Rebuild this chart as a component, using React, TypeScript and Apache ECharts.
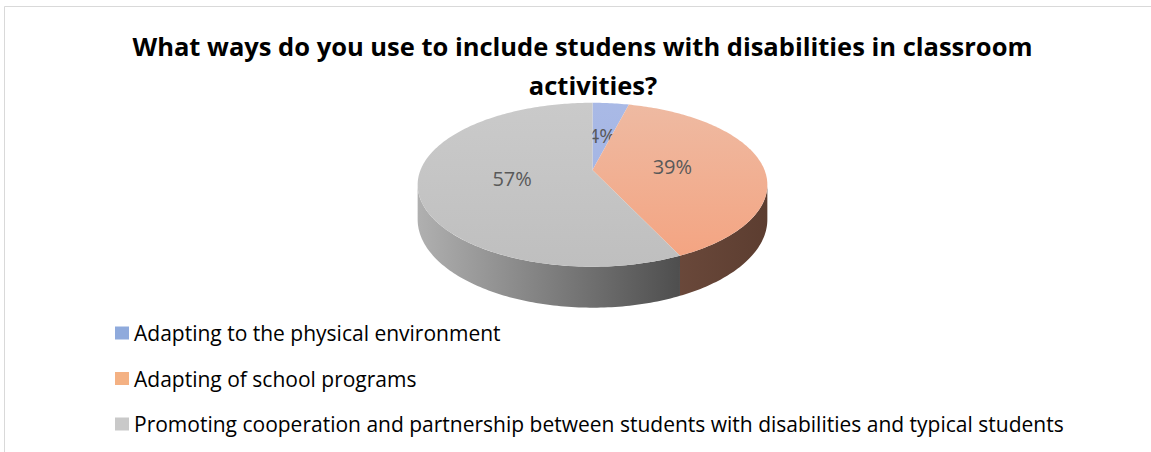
import React, { useEffect, useRef } from "react";
import * as echarts from "echarts";

// ---- data ----
const categories = [
  "Adapting to the physical environment",
  "Adapting of school programs",
  "Promoting cooperation and partnership between students with disabilities and typical students",
];
const values = [4, 39, 57];
const titleLines = [
  "What ways do you use to include studens with disabilities in classroom",
  "activities?",
];

// ---- styles ----
const legendColors = ["#8faadc", "#f4b183", "#c9c9c9"];
const topColors = [
  ["#aabae6", "#9fb1e2"],
  ["#eebca5", "#f4a380"],
  ["#cbcbcb", "#bfbfbf"],
];
const sideStops = [
  [["#5a6a96", 0], ["#4f5e88", 1]],
  [["#6c4a3c", 0.7], ["#5c3d30", 1]],
  [["#b0b0b0", 0], ["#4e4e4e", 0.75], ["#3a3a3a", 1]],
];
const titleCenters = [582.5, 593];
const titleTops = [31, 70];
const FONT = "'Open Sans', 'DejaVu Sans', sans-serif";

// ---- geometry of the tilted pie ----
const CX = 592.5;
const CY = 170;
const RX = 172;
const RZ = 79.3;
const P = 0.18;
const DEPTH = 33.6;
const LABEL_R = 0.47;

function proj(X: number, Z: number, h: number): number[] {
  const w = 1 / (1 - P * Z);
  return [CX + RX * X * w, CY + RZ * Z * w + h * DEPTH * w];
}

function arc(a0: number, a1: number, h: number, r = 1): number[][] {
  const n = Math.max(2, Math.ceil(((a1 - a0) * 180) / Math.PI));
  const pts: number[][] = [];
  for (let k = 0; k <= n; k++) {
    const t = a0 + ((a1 - a0) * k) / n;
    pts.push(proj(r * Math.sin(t), -r * Math.cos(t), h));
  }
  return pts;
}

export default function App() {
  const ref = useRef<HTMLDivElement>(null);

  useEffect(() => {
    if (!ref.current) return;
    const chart = echarts.init(ref.current, undefined, { renderer: "svg" });
    const total = values.reduce((a, b) => a + b, 0);
    const thetaR = Math.acos(-P);
    const thetaL = 2 * Math.PI - thetaR;
    const left = CX - RX * 1.02;
    const right = CX + RX * 1.02;

    const renderItem = (params: any, api: any) => {
      const i = params.dataIndex;
      const v = api.value(0);
      let before = 0;
      for (let k = 0; k < i; k++) before += values[k];
      const a0 = (before / total) * 2 * Math.PI;
      const a1 = a0 + (v / total) * 2 * Math.PI;
      const children: any[] = [];

      const s = Math.max(a0, thetaR);
      const e = Math.min(a1, thetaL);
      if (e > s) {
        const topArc = arc(s, e, 0);
        const botArc = arc(s, e, 1).reverse();
        children.push({
          type: "polygon",
          shape: { points: topArc.concat(botArc) },
          style: {
            fill: {
              type: "linear",
              x: left,
              y: 0,
              x2: right,
              y2: 0,
              global: true,
              colorStops: sideStops[i].map((st: any) => ({ offset: st[1], color: st[0] })),
            },
            stroke: null,
          },
        });
      }

      const topPts = [proj(0, 0, 0)].concat(arc(a0, a1, 0));
      children.push({
        type: "polygon",
        shape: { points: topPts },
        style: {
          fill: {
            type: "linear",
            x: 0,
            y: CY - RZ,
            x2: 0,
            y2: CY + RZ * 1.2,
            global: true,
            colorStops: [
              { offset: 0, color: topColors[i][0] },
              { offset: 1, color: topColors[i][1] },
            ],
          },
          stroke: null,
        },
      });

      const mid = (a0 + a1) / 2;
      const lp = proj(LABEL_R * Math.sin(mid), -LABEL_R * Math.cos(mid), 0);
      children.push({
        type: "text",
        x: lp[0],
        y: lp[1],
        style: {
          text: Math.round((v / total) * 100) + "%",
          fill: "#595959",
          fontSize: 20,
          fontFamily: FONT,
          align: "center",
          verticalAlign: "middle",
        },
      });
      return { type: "group", children };
    };

    chart.setOption({
      animation: false,
      backgroundColor: "#ffffff",
      title: titleLines.map((t, i) => ({
        text: t,
        left: titleCenters[i],
        top: titleTops[i],
        textAlign: "center",
        padding: 0,
        textStyle: {
          fontFamily: FONT,
          fontSize: 25.5,
          fontWeight: "bold",
          color: "#000000",
          lineHeight: 30,
        },
      })),
      legend: {
        data: categories,
        orient: "vertical",
        left: 115,
        top: 321,
        padding: 0,
        itemWidth: 14,
        itemHeight: 13,
        itemGap: 21.5,
        icon: "rect",
        selectedMode: false,
        textStyle: { fontFamily: FONT, fontSize: 21, color: "#000000", lineHeight: 24 },
      },
      graphic: [
        {
          type: "rect",
          shape: { x: 4.5, y: 6.5, width: 1400, height: 700 },
          style: { fill: "none", stroke: "#d9d9d9", lineWidth: 1 },
          silent: true,
        },
      ],
      series: [
        {
          type: "pie",
          name: "legend",
          silent: true,
          radius: [0, 0],
          center: [-50, -50],
          label: { show: false },
          labelLine: { show: false },
          data: categories.map((c, i) => ({
            name: c,
            value: values[i],
            itemStyle: { color: legendColors[i] },
          })),
        },
        {
          type: "custom",
          name: "pie3d",
          coordinateSystem: "none",
          silent: true,
          renderItem,
          data: categories.map((c, i) => ({ name: c, value: [values[i]] })),
        },
      ],
    });
    return () => chart.dispose();
  }, []);

  return (
    <div
      ref={ref}
      style={{ position: "absolute", left: 0, top: 0, width: 1151, height: 452 }}
    />
  );
}
